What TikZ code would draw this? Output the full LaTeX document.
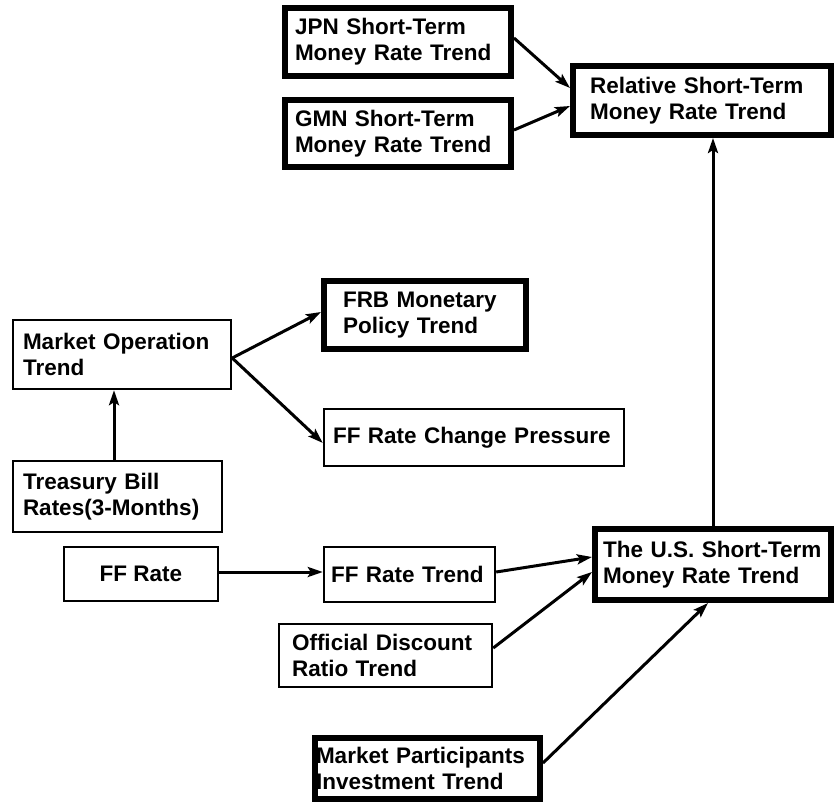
\documentclass[tikz,border=0pt]{standalone}
\usepackage{fontspec}
\setmainfont{Liberation Sans}
\usetikzlibrary{arrows.meta,calc}

\begin{document}
\begin{tikzpicture}[x=1pt,y=-1pt,
  every node/.style={font=\fontsize{22.5pt}{26pt}\selectfont\bfseries, inner ysep=0pt},
  heavybox/.style={draw, line width=6pt, align=left},
  lightbox/.style={draw, line width=2.4pt, align=left},
  arr/.style={line width=3pt, -{Stealth[length=15pt,width=10pt,inset=3pt]}}
]
  % canvas
  \fill[white] (0,0) rectangle (834,802);
  \useasboundingbox (0,0) rectangle (834,802);

  % boxes
  \node[heavybox, inner xsep=10pt, text width=206pt, minimum height=68pt] (jpn) at (398,42)
    {JPN Short-Term\\Money Rate Trend};
  \node[heavybox, inner xsep=10pt, text width=206pt, minimum height=67pt] (gmn) at (398,133.5)
    {GMN Short-Term\\Money Rate Trend};
  \node[heavybox, inner xsep=17pt, text width=224pt, minimum height=69pt] (rel) at (702,100.5)
    {Relative Short-Term\\Money Rate Trend};
  \node[heavybox, inner xsep=19pt, text width=164pt, minimum height=68pt] (frb) at (425,315)
    {FRB Monetary\\Policy Trend};
  \node[lightbox, inner xsep=10pt, text width=198pt, minimum height=69pt] (mot) at (122,354.5)
    {Market Operation\\Trend};
  \node[lightbox, inner xsep=9pt, text width=282pt, minimum height=57pt] (ffcp) at (474,437.5)
    {FF Rate Change Pressure};
  \node[lightbox, inner xsep=10pt, text width=189pt, minimum height=71pt] (tb) at (117.5,496.5)
    {Treasury Bill\\Rates(3-Months)};
  \node[lightbox, align=center, minimum width=154pt, minimum height=54pt] (ffr) at (141,574)
    {FF Rate};
  \node[lightbox, inner xsep=7pt, text width=157pt, minimum height=55pt] (fft) at (409.5,574.5)
    {FF Rate Trend};
  \node[heavybox, inner xsep=8pt, text width=220pt, minimum height=71pt] (us) at (713,564.5)
    {The U.S. Short-Term\\Money Rate Trend};
  \node[lightbox, inner xsep=13pt, text width=187pt, minimum height=63pt] (odr) at (385.5,655.5)
    {Official Discount\\Ratio Trend};
  \node[heavybox, inner xsep=1pt, text width=223pt, minimum height=61pt] (mpi) at (427.5,768.5)
    {Market Participants\\Investment Trend};

  % connectors
  \draw[arr] ([yshift=4pt]jpn.east) -- ([yshift=12.5pt]rel.west);
  \draw[arr] ([yshift=3.5pt]gmn.east) -- ([yshift=-5.5pt]rel.west);
  \draw[arr] (us.north) -- (us.north |- rel.south);
  \draw[arr] ([yshift=-3.5pt]mot.east) -- ([yshift=3pt]frb.west);
  \draw[arr] ([yshift=-3.5pt]mot.east) -- ([yshift=-5.5pt]ffcp.west);
  \draw[arr] ([xshift=-3.5pt]tb.north) -- ([xshift=-8pt]mot.south);
  \draw[arr] ([yshift=2pt]ffr.east) -- ([yshift=2.5pt]fft.west);
  \draw[arr] ([yshift=2.5pt]fft.east) -- ([yshift=7.5pt]us.west);
  \draw[arr] ([yshift=7.5pt]odr.east) -- ([yshift=-7.5pt]us.west);
  \draw[arr] ([yshift=5.5pt]mpi.east) -- ([xshift=-5pt]us.south);
\end{tikzpicture}
\end{document}
